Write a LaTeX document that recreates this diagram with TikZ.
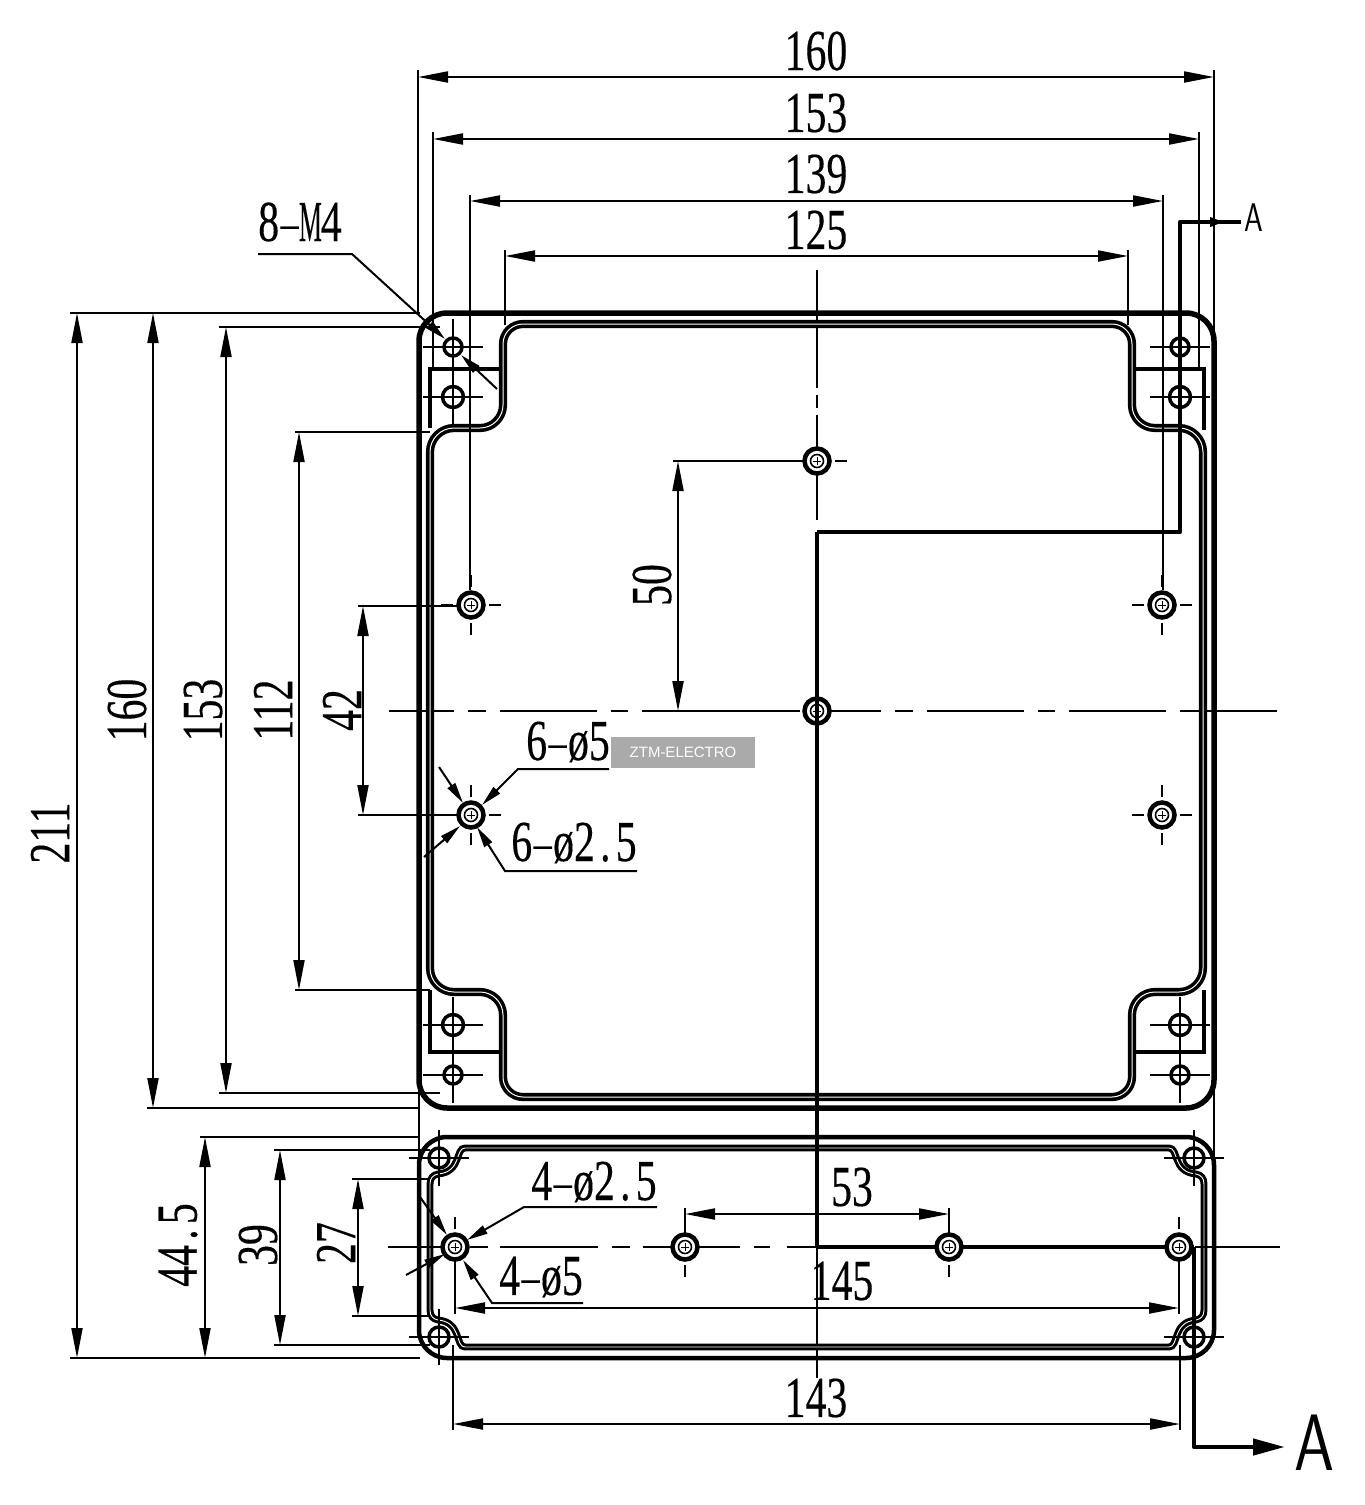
\documentclass[tikz,border=0pt]{standalone}
\usepackage{fontspec}
\usetikzlibrary{arrows.meta}
\newfontfamily\cadfont[FakeBold=0.3]{Liberation Serif}
\newfontfamily\markfont{Liberation Sans}
\definecolor{tag}{RGB}{170,170,170}
\newcommand*{\cad}[1]{\scalebox{.72}[1]{\cadfont #1}}
% all characters of the drawing font take the same advance
\newcommand*{\cdash}{\makebox[.5em]{\raisebox{.1em}{\scalebox{1.7}[.55]{-}}}}
\newcommand*{\cpoint}{\makebox[.5em]{.}}
\newcommand*{\cem}{\makebox[.5em]{\scalebox{.62}[1]{M}}}
\tikzset{%
  >={Triangle[length=30pt,width=11pt]},
  wall/.style={line width=5.5pt},% outer edge of the box
  gasket/.style={line width=3.6pt, double=white, double distance=1pt},% seal groove
  rib/.style={line width=3.2pt},
  dim/.style={line width=2pt},% dimension lines
  leader/.style={dim, >={Triangle[length=21pt,width=9pt]}},
  centre/.style={line width=2pt},
  section/.style={line width=4.5pt},
  num/.style={inner sep=0pt, font=\fontsize{58}{58}\selectfont}
}
% corner hole: ring and its centre lines
\newcommand*{\cornerhole}[3]{
  \draw[centre] (#1-30,#2)--(#1+30,#2) (#1,#2-28)--(#1,#2+28);
  \draw[line width=3.5pt] (#1,#2) circle (#3);
}
% boss with tapped hole
\newcommand*{\bosshole}[2]{
  \draw[centre] (#1-30,#2)--(#1-18,#2) (#1+18,#2)--(#1+30,#2) (#1,#2-30)--(#1,#2-18) (#1,#2+18)--(#1,#2+30);
  \draw[line width=4.5pt, fill=white] (#1,#2) circle (12.5);
  \draw[line width=1.6pt] (#1,#2) circle (6.5);
  \draw[line width=1pt] (#1-4,#2)--(#1+4,#2) (#1,#2-4)--(#1,#2+4);
}
\begin{document}
\begin{tikzpicture}[x=1pt,y=-1pt]
\useasboundingbox (0,0) rectangle (1365,1505);

% centre lines
\draw[centre] (817,270)--(817,388) (817,395)--(817,408) (817,415)--(817,520);
\draw[centre] (389,711)--(454,711) (468,711)--(486,711) (500,711)--(597,711) (611,711)--(628,711) (642,711)--(800,711)
  (830,711)--(881,711) (895,711)--(913,711) (927,711)--(1024,711) (1038,711)--(1055,711) (1069,711)--(1166,711) (1180,711)--(1277,711);
\draw[centre] (388,1247)--(445,1247) (470,1247)--(488,1247) (500,1247)--(598,1247) (612,1247)--(630,1247) (643,1247)--(740,1247)
  (754,1247)--(770,1247) (787,1247)--(817,1247) (1195,1247)--(1280,1247) (817,1247)--(817,1378);

% upper box
\draw[wall] (419,341) arc (180:270:28) -- (1186,313) arc (-90:0:28) -- (1214,1080) arc (0:90:28) -- (447,1108) arc (90:180:28) -- cycle;
\draw[gasket] (523,324) -- (1112,324) arc (-90:0:20) -- (1132,405) arc (180:90:23) -- (1179,428)
  arc (-90:0:24) -- (1203,968) arc (0:90:24) -- (1155,992) arc (-90:-180:23) -- (1132,1077)
  arc (0:90:20) -- (523,1097) arc (90:180:20) -- (503,1015) arc (0:-90:23) -- (454,992) arc (90:180:24)
  -- (430,452) arc (180:270:24) -- (480,428) arc (90:0:23) -- (503,344) arc (180:270:20) -- cycle;
\draw[rib] (430,428)--(430,369)--(500,369) (1134,369)--(1204,369)--(1204,430)
  (430,990)--(430,1052)--(500,1052) (1134,1052)--(1204,1052)--(1204,990);
\draw[line width=2.5pt] (419,1080)--(419,1165) (1214,1080)--(1214,1165);

% lower box
\draw[line width=4.5pt] (419,1165) arc (180:270:28) -- (1186,1137) arc (-90:0:28) -- (1214,1330) arc (0:90:28) -- (447,1358) arc (90:180:28) -- cycle;
\draw[line width=3pt, double=white, double distance=.9pt] (465,1148) -- (1169,1148) .. controls (1179,1148) and (1172,1172) .. (1196,1174)
  .. controls (1201,1175) and (1204,1178) .. (1204,1184) -- (1204,1310)
  .. controls (1204,1316) and (1201,1319) .. (1196,1320) .. controls (1172,1322) and (1179,1347) .. (1169,1347)
  -- (465,1347) .. controls (455,1347) and (462,1322) .. (438,1320) .. controls (433,1319) and (430,1316) .. (430,1310)
  -- (430,1184) .. controls (430,1178) and (433,1175) .. (438,1174) .. controls (462,1172) and (455,1148) .. (465,1148) -- cycle;

% holes
\foreach \hx in {453,1180}{
  \cornerhole{\hx}{347}{9}
  \cornerhole{\hx}{397}{10.5}
  \cornerhole{\hx}{1025}{10.5}
  \cornerhole{\hx}{1075}{9}
}
\foreach \hx in {439,1194}{
  \cornerhole{\hx}{1158}{10}
  \cornerhole{\hx}{1337}{10}
}
\bosshole{817}{461}
\bosshole{471}{605}
\bosshole{1162}{605}
\bosshole{817}{711}
\bosshole{471}{815}
\bosshole{1162}{815}
\bosshole{455}{1247}
\bosshole{685}{1247}
\bosshole{949}{1247}
\bosshole{1179}{1247}

% section line
\draw[line width=3.5pt] (817,1247) -- (817,532);
\draw[section, line join=round] (817,532) -- (1180,532) -- (1180,222) -- (1241,222);
\draw[section, -{Triangle[length=14pt,width=9pt]}] (1180,222) -- (1224,222);
\draw[section] (817,1247) -- (937,1247) (961,1247) -- (1166,1247) (1192,1247) -- (1194,1247);
\draw[section, line join=round, ->, >={Triangle[length=32pt,width=16pt]}] (1194,1247) -- (1194,1447) -- (1285,1447);
\node[inner sep=0pt] (ta) at (1254,218) {\scalebox{.75}[1]{\sffamily\fontsize{40}{40}\selectfont A}};
\node[inner sep=0pt] (tb) at (1314,1443) {\scalebox{.8}[1]{\sffamily\fontsize{80}{80}\selectfont A}};

% top dimensions
\draw[dim] (418,70)--(418,313) (1214,70)--(1214,340);
\draw[dim,<->] (418,77)--(1214,77);
\node[num] (w160) at (816,51) {\cad{160}};
\draw[dim] (433,132)--(433,369) (1199,132)--(1199,369);
\draw[dim,<->] (433,139)--(1199,139);
\node[num] (w153) at (816,113) {\cad{153}};
\draw[dim] (470,195)--(470,590) (1163,195)--(1163,590);
\draw[dim,<->] (470,201)--(1163,201);
\node[num] (w139) at (816,174) {\cad{139}};
\draw[dim] (505,250)--(505,325) (1128,250)--(1128,325);
\draw[dim,<->] (505,256)--(1128,256);
\node[num] (w125) at (816,230) {\cad{125}};

% left dimensions
\draw[dim] (70,313)--(420,313) (70,1358)--(420,1358);
\draw[dim,<->] (77,313)--(77,1358);
\node[num,rotate=90] (h211) at (50,833) {\cad{211}};
\draw[dim] (147,1108)--(420,1108);
\draw[dim,<->] (153,313)--(153,1108);
\node[num,rotate=90] (h160) at (127,710) {\cad{160}};
\draw[dim] (219,327)--(440,327) (219,1093)--(440,1093);
\draw[dim,<->] (226,327)--(226,1093);
\node[num,rotate=90] (h153) at (203,710) {\cad{153}};
\draw[dim] (295,432)--(430,432) (295,990)--(430,990);
\draw[dim,<->] (299,432)--(299,990);
\node[num,rotate=90] (h112) at (273,710) {\cad{112}};
\draw[dim] (358,606)--(458,606) (358,815)--(458,815);
\draw[dim,<->] (363,606)--(363,815);
\node[num,rotate=90] (h42) at (342,710) {\cad{42}};
\draw[dim] (673,461)--(805,461);
\draw[dim,<->] (678,461)--(678,711);
\node[num,rotate=90] (h50) at (652,585) {\cad{50}};

% lower box dimensions
\draw[dim] (200,1137)--(420,1137);
\draw[dim,<->] (205,1137)--(205,1358);
\node[num,rotate=90] (l445) at (178,1245) {\cad{44\cpoint 5}};
\draw[dim] (274,1150)--(430,1150) (274,1345)--(430,1345);
\draw[dim,<->] (280,1150)--(280,1345);
\node[num,rotate=90] (l39) at (258,1245) {\cad{39}};
\draw[dim] (352,1179)--(430,1179) (352,1316)--(430,1316);
\draw[dim,<->] (358,1179)--(358,1316);
\node[num,rotate=90] (l27) at (336,1243) {\cad{27}};
\draw[dim] (685,1208)--(685,1235) (949,1208)--(949,1235);
\draw[dim,<->] (685,1214)--(949,1214);
\node[num] (l53) at (852,1187) {\cad{53}};
\draw[dim] (455,1258)--(455,1314) (1179,1258)--(1179,1314);
\draw[dim,<->] (455,1308)--(1179,1308);
\node[num] (l145) at (842,1281) {\cad{145}};
\draw[dim] (453,1345)--(453,1430) (1180,1345)--(1180,1430);
\draw[dim,<->] (453,1424)--(1180,1424);
\node[num] (l143) at (816,1398) {\cad{143}};

% leaders
\node[num] (m4) at (300,222) {\cad{8\cdash\cem 4}};
\draw[leader,->] (258,254)--(352,254)--(445,339);
\draw[leader,->] (497,389)--(461,355);
\node[num] (d5) at (568,742) {\cad{6\cdash ø5}};
\draw[leader,->] (609,769)--(518,769)--(482,805);
\draw[leader,->] (439,767)--(463,803);
\node[num] (d25) at (574,843) {\cad{6\cdash ø2\cpoint 5}};
\draw[leader,->] (637,871)--(505,871)--(477,827);
\draw[leader,->] (424,857)--(460,826);
\node[num] (e25) at (594,1182) {\cad{4\cdash ø2\cpoint 5}};
\draw[leader,->] (657,1207)--(524,1207)--(467,1240);
\draw[leader,->] (420,1197)--(447,1235);
\node[num] (e5) at (541,1277) {\cad{4\cdash ø5}};
\draw[leader,->] (583,1303)--(492,1303)--(463,1260);
\draw[leader,->] (406,1275)--(445,1254);

% watermark
\node[fill=tag, text=white, minimum width=144pt, minimum height=31pt, inner sep=0pt, font=\markfont\fontsize{15}{15}\selectfont] (ztm) at (683,752) {ZTM-ELECTRO};
\end{tikzpicture}
\end{document}
